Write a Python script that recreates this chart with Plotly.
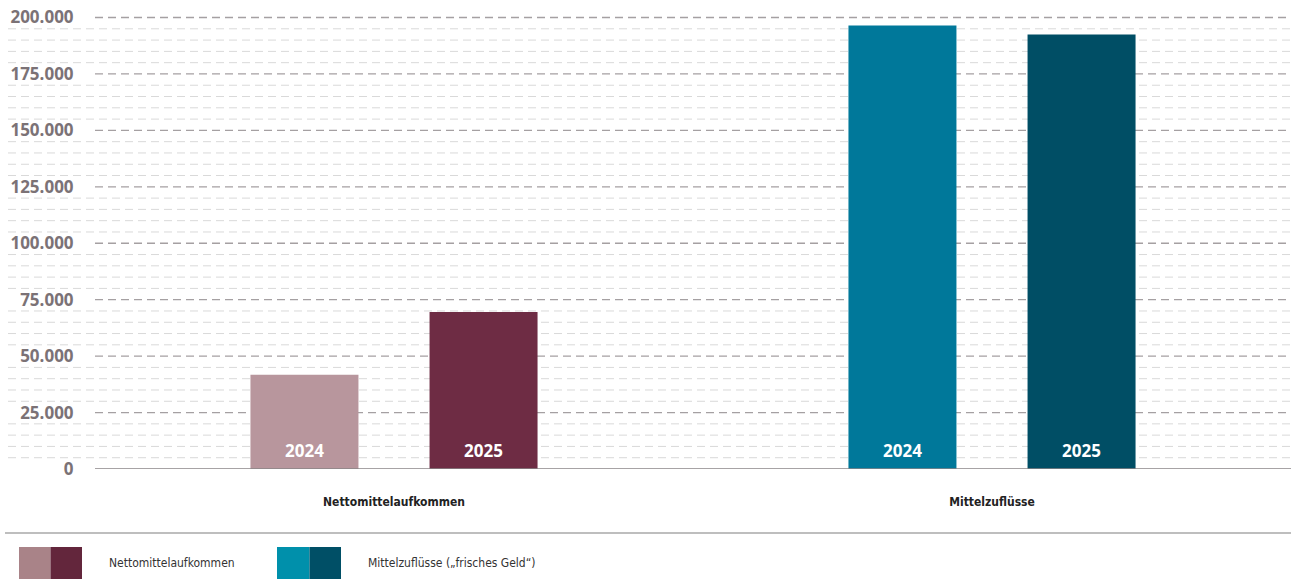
import plotly.graph_objects as go

# Data (values in thousands of euros shown as full numbers)
categories = ["Nettomittelaufkommen", "Mittelzuflüsse"]
years = ["2024", "2025"]
values_2024 = [41700, 196500]
values_2025 = [69600, 192500]
colors_2024 = ["#b8969d", "#00789a"]
colors_2025 = ["#6e2c44", "#004e65"]
y_ticks = [0, 25000, 50000, 75000, 100000, 125000, 150000, 175000, 200000]
legend_labels = ["Nettomittelaufkommen", "Mittelzuflüsse („frisches Geld“)"]
legend_colors = [("#a98388", "#63263c"), ("#0090ab", "#004f66")]

W, H = 1291, 583
M_L, M_R, M_T, M_B = 95, 0, 13, 114
PW, PH = W - M_L - M_R, H - M_T - M_B
Y_MAX = 202000

def px_x(px):
    return (px - M_L) / PW

def px_y(py):
    return (H - M_B - py) / PH

TICK_FONT = dict(family="Open Sans", size=17, color="#7b7276", weight="bold")
CAT_FONT = dict(family="DejaVu Sans Condensed, Roboto", size=12, color="#222222", weight="bold")
LEG_FONT = dict(family="DejaVu Sans Condensed, Roboto", size=12, color="#333333")

fig = go.Figure()
fig.add_trace(go.Bar(name=years[0], x=categories, y=values_2024,
                     marker=dict(color=colors_2024, line=dict(width=0)),
                     hoverinfo="skip"))
fig.add_trace(go.Bar(name=years[1], x=categories, y=values_2025,
                     marker=dict(color=colors_2025, line=dict(width=0)),
                     hoverinfo="skip"))

shapes = []
# minor gridlines every 5.000, extending under the tick labels
for v in range(5000, 200001, 5000):
    if v % 25000 == 0:
        continue
    shapes.append(dict(type="line", xref="paper", yref="y", x0=px_x(8), x1=1, y0=v, y1=v,
                       line=dict(color="#d9d9d9", width=1, dash="8px,5px"), layer="below"))
# major gridlines
for v in y_ticks[1:]:
    shapes.append(dict(type="line", xref="paper", yref="y", x0=0, x1=1, y0=v, y1=v,
                       line=dict(color="#a5a0a2", width=1.3, dash="8px,5px"), layer="below"))
# zero line
shapes.append(dict(type="line", xref="paper", yref="y", x0=0, x1=1, y0=0, y1=0,
                   line=dict(color="#8a8587", width=1.5), layer="above"))
# separator above the legend
shapes.append(dict(type="line", xref="paper", yref="paper", x0=px_x(5), x1=1,
                   y0=px_y(533), y1=px_y(533), line=dict(color="#a8a8a8", width=1.5)))

annotations = []
# year labels at the foot of each bar
for cat in categories:
    for yr, shift in zip(years, (-89.5, 89.5)):
        annotations.append(dict(x=cat, y=0, xref="x", yref="y", text=yr, showarrow=False,
                                xshift=shift, yshift=19, yanchor="middle",
                                font=dict(family="Open Sans", size=17, color="white", weight="bold")))

# legend: colour swatches and labels
leg_x = [(19, 50.5, 82), (277, 309.5, 341)]
leg_text_x = [107, 366]
for (a, b, c), (c1, c2), lx, label in zip(leg_x, legend_colors, leg_text_x, legend_labels):
    shapes.append(dict(type="rect", xref="paper", yref="paper", x0=px_x(a), x1=px_x(b),
                       y0=px_y(579), y1=px_y(547), fillcolor=c1, line=dict(width=0)))
    shapes.append(dict(type="rect", xref="paper", yref="paper", x0=px_x(b), x1=px_x(c),
                       y0=px_y(579), y1=px_y(547), fillcolor=c2, line=dict(width=0)))
    annotations.append(dict(x=px_x(lx), y=px_y(563), xref="paper", yref="paper", text=label,
                            showarrow=False, xanchor="left", yanchor="middle", font=LEG_FONT))

fig.update_layout(
    width=W, height=H,
    margin=dict(l=M_L, r=M_R, t=M_T, b=M_B),
    paper_bgcolor="white", plot_bgcolor="white",
    barmode="group", bargap=0.401, bargroupgap=0.397,
    separators=",.",
    showlegend=False,
    shapes=shapes, annotations=annotations,
    xaxis=dict(showgrid=False, showline=False, zeroline=False,
               ticks="outside", ticklen=22, tickcolor="rgba(0,0,0,0)",
               tickfont=CAT_FONT, fixedrange=True),
    yaxis=dict(range=[0, Y_MAX], tickvals=y_ticks, tickformat=",d",
               showgrid=False, zeroline=False, showline=False,
               ticks="outside", ticklen=17, tickcolor="rgba(0,0,0,0)",
               tickfont=TICK_FONT, fixedrange=True),
)

fig.write_html("out.html", config={"displayModeBar": False})
